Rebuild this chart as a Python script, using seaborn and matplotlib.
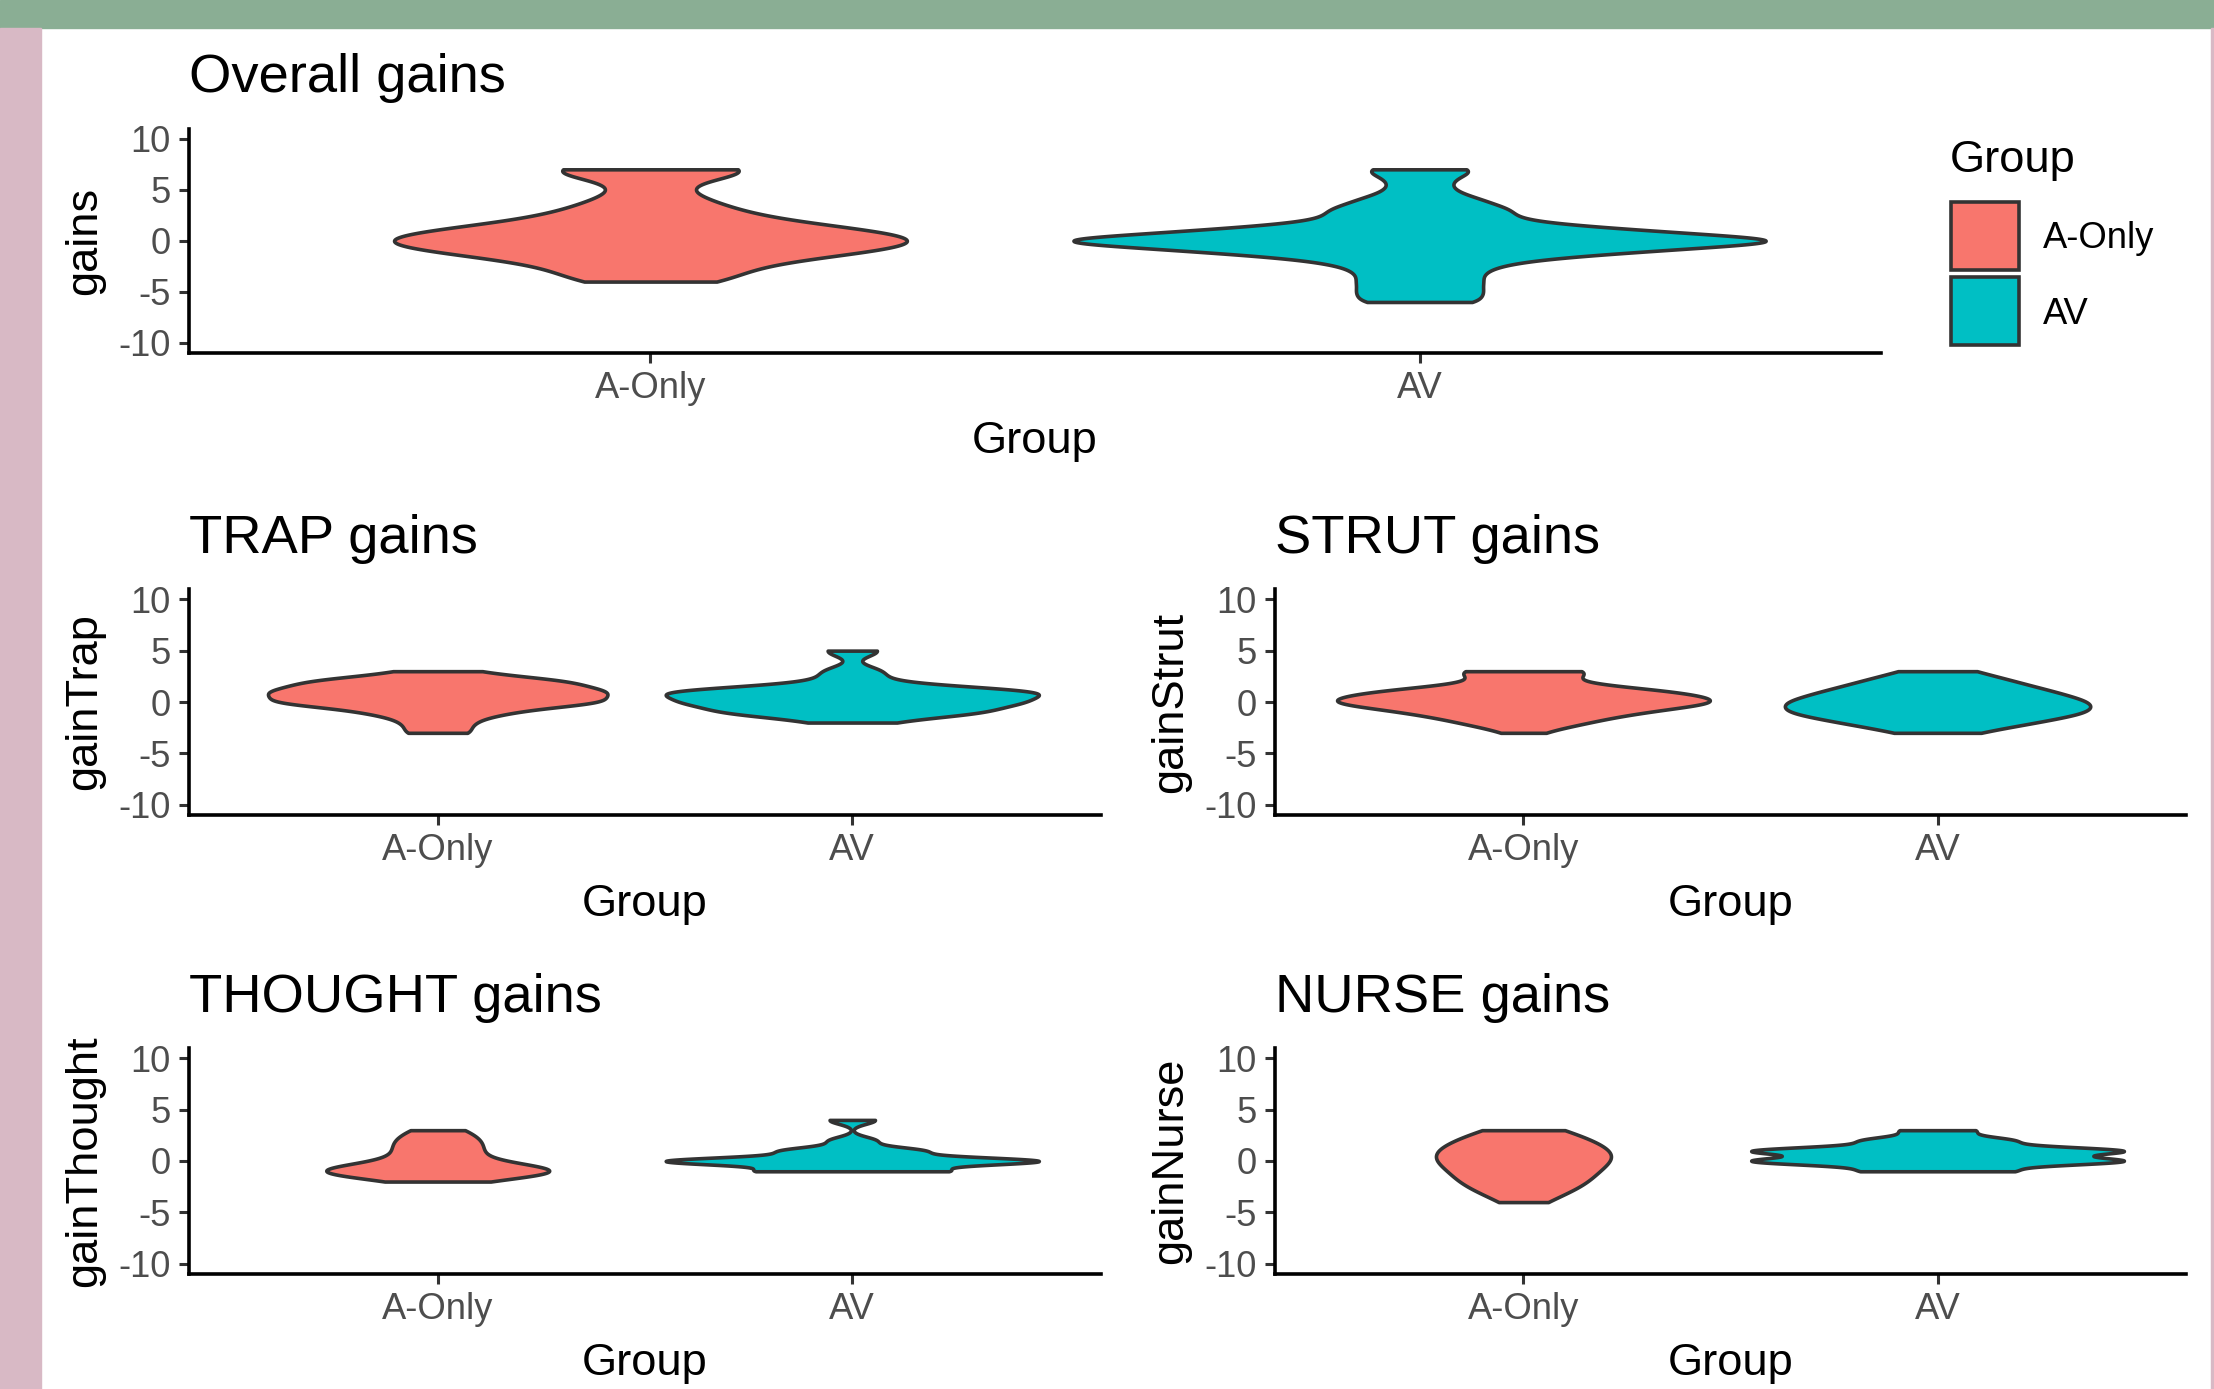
import numpy as np
import pandas as pd
import matplotlib
matplotlib.use("Agg")
import matplotlib.pyplot as plt
from matplotlib.patches import Rectangle
import seaborn as sns

groups = ["A-Only", "AV"]
colors = ["#F8766D", "#00BFC4"]

# gain scores, and how many participants in each group got each score
overall_scores = [-6, -5, -4, -3, -2, -1, 0, 1, 2, 3, 4, 5, 6, 7]
overall_aonly = [0, 0, 3, 3, 4, 8, 10, 8, 4, 3, 2, 1, 1, 6]
overall_av = [2, 2, 2, 2, 3, 7, 13, 7, 3, 3, 2, 1, 1, 2]

trap_scores = [-3, -2, -1, 0, 1, 2, 3, 4, 5]
trap_aonly = [1, 1, 2, 5, 5, 4, 1, 0, 0]
trap_av = [0, 1, 4, 5, 6, 1, 1, 0, 1]

strut_scores = [-3, -2, -1, 0, 1, 2, 3]
strut_aonly = [1, 4, 7, 13, 10, 2, 5]
strut_av = [2, 5, 8, 8, 6, 4, 2]

thought_scores = [-2, -1, 0, 1, 2, 3, 4]
thought_aonly = [2, 11, 3, 3, 3, 2, 0]
thought_av = [0, 4, 8, 3, 1, 0, 1]

nurse_scores = [-4, -3, -2, -1, 0, 1, 2, 3]
nurse_aonly = [1, 2, 3, 3, 4, 4, 3, 2]
nurse_av = [0, 0, 0, 2, 5, 5, 2, 1]

y_ticks = [-10, -5, 0, 5, 10]
y_tick_labels = ["-10", "-5", "0", "5", "10"]


def make_df(col, scores, aonly, av):
    vals = np.concatenate([np.repeat(scores, aonly), np.repeat(scores, av)])
    grp = ["A-Only"] * sum(aonly) + ["AV"] * sum(av)
    return pd.DataFrame({"Group": grp, col: vals})


def nrd0(kde):
    # R's default bandwidth (bw.nrd0), given as a factor of the sd
    x = np.asarray(kde.dataset).ravel()
    sd = x.std(ddof=1)
    q1, q3 = np.percentile(x, [25, 75])
    lo = min(sd, (q3 - q1) / 1.34)
    return 0.9 * lo * len(x) ** -0.2 / sd


sns.set_theme(style="white")
plt.rcParams["font.family"] = ["Liberation Sans", "DejaVu Sans"]

W, H = 2214, 1389
fig = plt.figure(figsize=(W / 100, H / 100), dpi=100)
fig.patch.set_facecolor("white")

# page decoration round the plot
fig.add_artist(Rectangle((0, 1 - 28 / H), 1, 28 / H, transform=fig.transFigure,
                         color="#8aae94", zorder=-5))
fig.add_artist(Rectangle((0, 0), 41 / W, 1 - 28 / H, transform=fig.transFigure,
                         color="#d8b9c5", zorder=-5))
fig.add_artist(Rectangle(((W - 3) / W, 0), 3 / W, 1 - 28 / H, transform=fig.transFigure,
                         color="#d8b9c5", zorder=-5))


def px_axes(left, top, right, bottom):
    return fig.add_axes([left / W, 1 - bottom / H, (right - left) / W, (bottom - top) / H])


def draw(ax, df, col, title):
    sns.violinplot(data=df, x="Group", y=col, hue="Group", order=groups, hue_order=groups,
                   palette=colors, saturation=1, cut=0, density_norm="area",
                   common_norm=True, width=0.9, inner=None, bw_method=nrd0, gridsize=512,
                   linecolor="#333333", linewidth=2.6, legend=False, ax=ax)
    ax.set_xlim(-0.6, 1.6)
    ax.set_ylim(-11, 11)
    ax.set_yticks(y_ticks, y_tick_labels)
    ax.tick_params(length=7, width=2.2, color="#333333", labelsize=26.2,
                   labelcolor="#4d4d4d", pad=6, left=True, bottom=True)
    for s in ["top", "right"]:
        ax.spines[s].set_visible(False)
    for s in ["left", "bottom"]:
        ax.spines[s].set_linewidth(2.6)
        ax.spines[s].set_color("black")
    w_px = ax.get_position().width * W
    h_px = ax.get_position().height * H
    ax.set_xlabel("Group", fontsize=32.6, color="black")
    ax.set_ylabel(col, fontsize=32.6, color="black")
    ax.xaxis.set_label_coords(0.5, -89 / h_px)
    ax.yaxis.set_label_coords(-104 / w_px, 0.5)
    ax.xaxis.label.set_va("center")
    ax.yaxis.label.set_va("center")
    ax.set_title(title, loc="left", fontsize=39.2, pad=26, color="black")


ax0 = px_axes(189, 128.5, 1881, 353)
draw(ax0, make_df("gains", overall_scores, overall_aonly, overall_av), "gains", "Overall gains")

ax1 = px_axes(189, 589, 1101, 815)
draw(ax1, make_df("gainTrap", trap_scores, trap_aonly, trap_av), "gainTrap", "TRAP gains")

ax2 = px_axes(1275, 589, 2186, 815)
draw(ax2, make_df("gainStrut", strut_scores, strut_aonly, strut_av), "gainStrut", "STRUT gains")

ax3 = px_axes(189, 1048, 1101, 1274)
draw(ax3, make_df("gainThought", thought_scores, thought_aonly, thought_av), "gainThought", "THOUGHT gains")

ax4 = px_axes(1275, 1048, 2186, 1274)
draw(ax4, make_df("gainNurse", nurse_scores, nurse_aonly, nurse_av), "gainNurse", "NURSE gains")

# legend for the fill colour
fig.text(1950 / W, 1 - 172 / H, "Group", fontsize=32.6, ha="left", va="baseline", color="black")
for i, (g, c) in enumerate(zip(groups, colors)):
    top = 202 + i * 75
    fig.add_artist(Rectangle((1951 / W, 1 - (top + 68) / H), 68 / W, 68 / H,
                             transform=fig.transFigure, facecolor=c,
                             edgecolor="#333333", linewidth=2.6))
    fig.text(2043 / W, 1 - (top + 37) / H, g, fontsize=26.2, ha="left", va="center",
             color="black")

fig.savefig("out.png", dpi=100)
